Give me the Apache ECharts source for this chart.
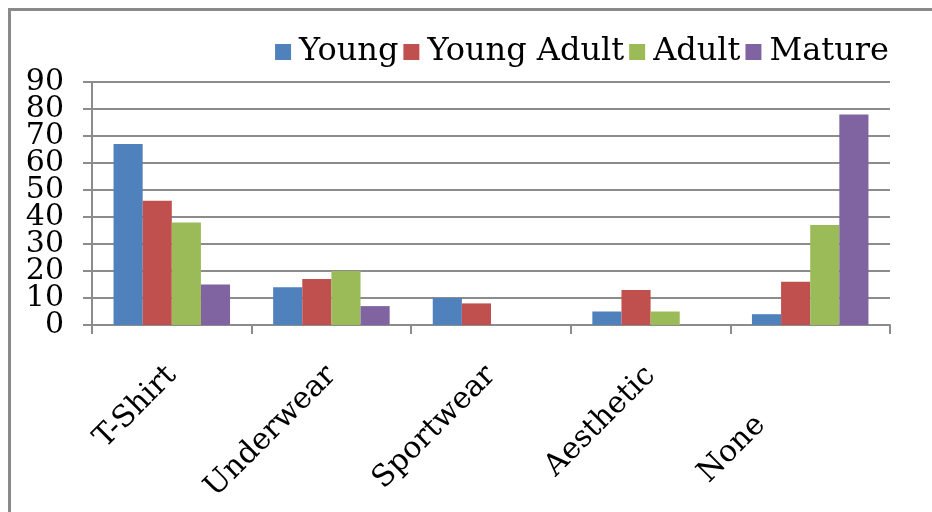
<!DOCTYPE html>
<html>
<head>
<meta charset="utf-8">
<script src="https://cdn.jsdelivr.net/npm/echarts@6/dist/echarts.min.js"></script>
<style>
	html, body { margin: 0; padding: 0; background: #fff; }
	#chart { width: 932px; height: 512px; }
</style>
</head>
<body>
<div id="chart"></div>
<script>
const categories = ['T-Shirt', 'Underwear', 'Sportwear', 'Aesthetic', 'None']
const seriesNames = ['Young', 'Young Adult', 'Adult', 'Mature']
const young = [67, 14, 10, 5, 4]
const youngAdult = [46, 17, 8, 13, 16]
const adult = [38, 20, 0, 5, 37]
const mature = [15, 7, 0, 0, 78]
const yTicks = [0, 10, 20, 30, 40, 50, 60, 70, 80, 90]

const colors = ['#4F81BD', '#C0504D', '#9BBB59', '#8064A2']
const font = 'DejaVu Serif'
const gridColor = '#8c8c8c'
const gridLeft = 92

const myChart = echarts.init(document.getElementById('chart'))

// the last label ("None") sits further down its diagonal in the original
const labelPad = { None: [0, 70, 0, 0] }

const frame = {
	type: 'polyline',
	shape: { points: [[9.5, 700], [9.5, 9.5], [940, 9.5]] },
	style: { fill: null, stroke: '#8a8a8a', lineWidth: 3 },
	silent: true,
}

const options = {
	color: colors,
	animation: false,
	graphic: [frame],
	legend: {
		right: 38,
		top: 31,
		itemWidth: 16,
		itemHeight: 16,
		itemGap: 5,
		icon: 'rect',
		textStyle: {
			fontFamily: font,
			fontSize: 32,
			color: '#000',
			padding: [0, 0, 0, 3],
		},
		data: seriesNames,
	},
	grid: {
		left: gridLeft,
		right: 42,
		top: 82,
		bottom: 187,
	},
	xAxis: {
		type: 'category',
		data: categories.map((c) =>
			labelPad[c] ? { value: c, textStyle: { padding: labelPad[c] } } : c
		),
		axisLine: { lineStyle: { color: gridColor, width: 2 } },
		axisTick: { show: true, length: 9, lineStyle: { color: gridColor, width: 2 } },
		axisLabel: {
			rotate: 45,
			interval: 0,
			margin: 46,
			fontFamily: font,
			fontSize: 30,
			color: '#000',
		},
	},
	yAxis: {
		type: 'value',
		min: yTicks[0],
		max: yTicks[yTicks.length - 1],
		interval: 10,
		axisLine: { show: true, lineStyle: { color: gridColor, width: 2 } },
		axisTick: { show: true, length: 9, lineStyle: { color: gridColor, width: 2 } },
		splitLine: { lineStyle: { color: gridColor, width: 2 } },
		// labels are packed tighter than the font size, echarts drops some of them,
		// so they are placed below with the axis' own scale
		axisLabel: { show: false },
	},
	series: [young, youngAdult, adult, mature].map((d, i) => {
		return {
			name: seriesNames[i],
			type: 'bar',
			data: d,
			barGap: '0%',
			barCategoryGap: '27%',
			itemStyle: { color: colors[i] },
		}
	}),
}

myChart.setOption(options)

const tickTexts = yTicks.map((v) => {
	const y = myChart.convertToPixel({ yAxisIndex: 0 }, v)
	return {
		type: 'text',
		x: gridLeft - 28,
		y: y,
		silent: true,
		style: {
			text: String(v),
			fontFamily: font,
			fontSize: 30,
			fill: '#000',
			align: 'right',
			verticalAlign: 'middle',
		},
	}
})
myChart.setOption({ graphic: [frame].concat(tickTexts) })
</script>
</body>
</html>
